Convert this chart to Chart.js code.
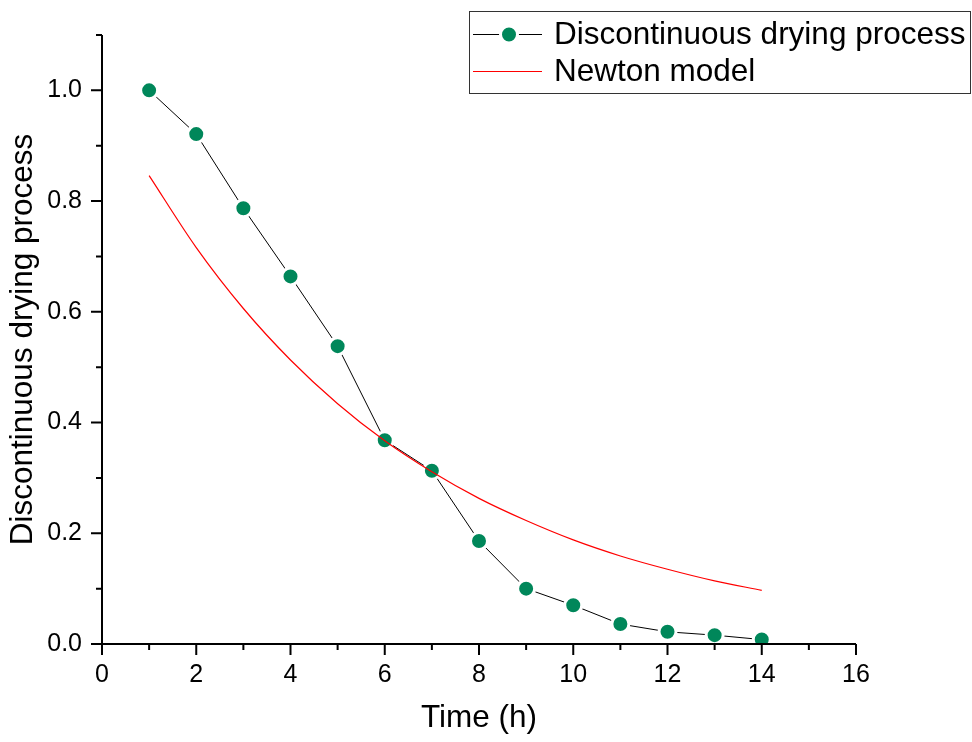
<!DOCTYPE html>
<html>
<head>
<meta charset="utf-8">
<script src="https://cdn.jsdelivr.net/npm/chart.js@4"></script>
<style>
  html, body { margin: 0; padding: 0; background: #fff; }
  canvas { display: block; }
</style>
</head>
<body>
<canvas id="dryingChart" width="972" height="742"></canvas>
<script>
const timeHours = [1, 2, 3, 4, 5, 6, 7, 8, 9, 10, 11, 12, 13, 14];
const dryingValues = [1.0, 0.921, 0.787, 0.664, 0.538, 0.368, 0.313, 0.186, 0.100, 0.070, 0.036, 0.022, 0.016, 0.008];
const newtonValues = [0.846, 0.716, 0.606, 0.513, 0.434, 0.367, 0.311, 0.263, 0.223, 0.188, 0.159, 0.135, 0.114, 0.097];

const seriesLabels = ['Discontinuous drying process', 'Newton model'];
const xAxisTitle = 'Time (h)';
const yAxisTitle = 'Discontinuous drying process';

// Achsenteilung (Haupt- und Nebenstriche)
const xMajorTicks = [0, 2, 4, 6, 8, 10, 12, 14, 16];
const xMinorTicks = [1, 3, 5, 7, 9, 11, 13, 15];
const yMajorTicks = [0.0, 0.2, 0.4, 0.6, 0.8, 1.0];
const yMinorTicks = [0.1, 0.3, 0.5, 0.7, 0.9, 1.1];

const markerGreen = '#00875a';
const FONT = '"Liberation Sans", Arial, sans-serif';

const toPoints = (xs, ys) => xs.map((x, i) => ({ x: x, y: ys[i] }));

// Achsen + Striche nach den Datensätzen zeichnen (liegen oben drauf)
const axisPlugin = {
  id: 'originAxes',
  afterDatasetsDraw(chart) {
    const ctx = chart.ctx;
    const xs = chart.scales.x;
    const ys = chart.scales.y;
    const x0 = xs.getPixelForValue(xs.min);
    const x1 = xs.getPixelForValue(xs.max);
    const y0 = ys.getPixelForValue(ys.min);
    const y1 = ys.getPixelForValue(ys.max);

    ctx.save();
    ctx.strokeStyle = '#000';
    ctx.lineWidth = 2;
    ctx.lineCap = 'butt';

    ctx.beginPath();
    ctx.moveTo(x0, y0);
    ctx.lineTo(x1, y0);
    ctx.moveTo(x0, y0 + 1);
    ctx.lineTo(x0, y1);

    xMajorTicks.forEach(v => {
      const px = xs.getPixelForValue(v);
      ctx.moveTo(px, y0);
      ctx.lineTo(px, y0 + 11);
    });
    xMinorTicks.forEach(v => {
      const px = xs.getPixelForValue(v);
      ctx.moveTo(px, y0);
      ctx.lineTo(px, y0 + 6);
    });
    yMajorTicks.forEach(v => {
      const py = ys.getPixelForValue(v);
      ctx.moveTo(x0, py);
      ctx.lineTo(x0 - 11, py);
    });
    yMinorTicks.forEach(v => {
      const py = ys.getPixelForValue(v);
      ctx.moveTo(x0, py);
      ctx.lineTo(x0 - 6, py);
    });
    ctx.stroke();
    ctx.restore();
  }
};

// Legende im Kasten oben rechts
const legendPlugin = {
  id: 'boxLegend',
  afterDraw(chart) {
    const ctx = chart.ctx;
    const ds = chart.data.datasets;
    ctx.save();
    ctx.fillStyle = '#fff';
    ctx.fillRect(469.5, 11.5, 501, 82);
    ctx.strokeStyle = '#333';
    ctx.lineWidth = 1;
    ctx.strokeRect(469.5, 11.5, 501, 82);

    const rows = [34, 71];
    ds.forEach((d, i) => {
      const y = rows[i];
      ctx.strokeStyle = d.borderColor;
      ctx.lineWidth = 1;
      ctx.beginPath();
      ctx.moveTo(473, y + 0.5);
      ctx.lineTo(542, y + 0.5);
      ctx.stroke();
      if (d.pointRadius > 0) {
        ctx.beginPath();
        ctx.arc(509, y + 0.5, d.pointRadius, 0, Math.PI * 2);
        ctx.fillStyle = d.pointBackgroundColor;
        ctx.fill();
        ctx.lineWidth = d.pointBorderWidth;
        ctx.strokeStyle = '#fff';
        ctx.stroke();
      }
      ctx.fillStyle = '#000';
      ctx.font = '31.5px ' + FONT;
      ctx.textAlign = 'left';
      ctx.textBaseline = 'middle';
      ctx.fillText(d.label, 554, y + 1);
    });
    ctx.restore();
  }
};

const canvas = document.getElementById('dryingChart');
new Chart(canvas.getContext('2d'), {
  type: 'line',
  data: {
    datasets: [
      {
        label: seriesLabels[0],
        data: toPoints(timeHours, dryingValues),
        borderColor: '#000',
        borderWidth: 1,
        pointRadius: 8.5,
        pointBorderWidth: 3,
        pointBackgroundColor: markerGreen,
        pointBorderColor: '#fff',
        pointHoverRadius: 8.5,
        tension: 0,
        order: 1
      },
      {
        label: seriesLabels[1],
        data: toPoints(timeHours, newtonValues),
        borderColor: '#ff0000',
        borderWidth: 1.2,
        pointRadius: 0,
        cubicInterpolationMode: 'monotone',
        order: 0
      }
    ]
  },
  options: {
    responsive: false,
    animation: false,
    devicePixelRatio: 1,
    layout: { padding: { top: 35, right: 116, left: 0, bottom: 0 } },
    plugins: {
      legend: { display: false },
      tooltip: { enabled: false }
    },
    scales: {
      x: {
        type: 'linear',
        min: 0,
        max: 16,
        grid: { display: false, drawTicks: false },
        border: { display: false },
        ticks: {
          stepSize: 2,
          padding: 16,
          color: '#000',
          font: { family: FONT, size: 25 },
          callback: v => String(v)
        },
        title: {
          display: true,
          text: xAxisTitle,
          color: '#000',
          font: { family: FONT, size: 31.5 },
          padding: { top: 0, bottom: 5 }
        },
        afterFit(scale) { scale.height = 98; }
      },
      y: {
        type: 'linear',
        min: 0,
        max: 1.1,
        grid: { display: false, drawTicks: false },
        border: { display: false },
        ticks: {
          stepSize: 0.2,
          includeBounds: false,
          padding: 20,
          color: '#000',
          font: { family: FONT, size: 25 },
          callback: v => v.toFixed(1)
        },
        title: {
          display: true,
          text: yAxisTitle,
          color: '#000',
          font: { family: FONT, size: 31.5 },
          padding: { top: 4, bottom: 0 }
        },
        afterFit(scale) { scale.width = 102; }
      }
    }
  },
  plugins: [axisPlugin, legendPlugin]
});
</script>
</body>
</html>
